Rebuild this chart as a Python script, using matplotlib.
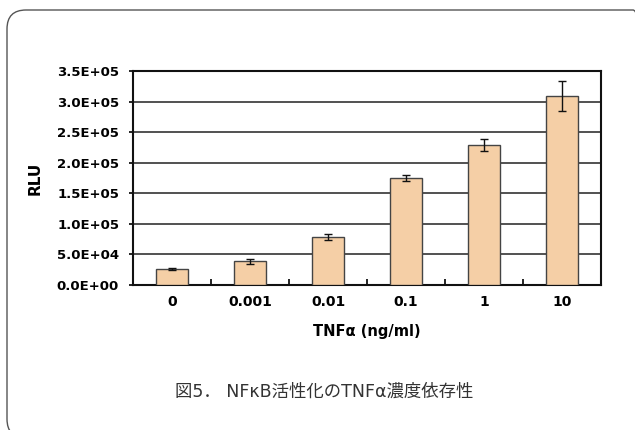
import numpy as np
import matplotlib
matplotlib.use("Agg")
import matplotlib.pyplot as plt
from matplotlib.patches import FancyBboxPatch
from matplotlib.ticker import FuncFormatter, MultipleLocator, FixedLocator

# data
doses = ["0", "0.001", "0.01", "0.1", "1", "10"]
rlu = [26500, 39000, 78500, 175000, 229000, 309000]
rlu_err = [1500, 4000, 5500, 5000, 9500, 25000]

plt.rcParams["font.family"] = ["DejaVu Sans"]

W, H = 635, 430
fig = plt.figure(figsize=(W / 100, H / 100), dpi=100)

# rounded frame (in inches so the corners stay round); runs off the right/bottom edge
frame = FancyBboxPatch((0.07, -0.08), 6.45, 4.28,
                       boxstyle="round,pad=0,rounding_size=0.19",
                       transform=fig.dpi_scale_trans, fill=False,
                       ec="#555555", lw=1.0, clip_on=False)
fig.patches.append(frame)

ax = fig.add_axes([133 / W, 1 - 285 / H, 468 / W, 214 / H])
x = np.arange(len(doses))
ax.bar(x, rlu, 0.4, yerr=rlu_err, color="#f5cfa6", edgecolor="#444444",
       lw=1.0, capsize=3.2, error_kw=dict(elinewidth=1.0, ecolor="#111111",
                                          capthick=1.0), zorder=3)

ax.set_xlim(-0.5, len(doses) - 0.5)
ax.set_ylim(0, 350000)
ax.yaxis.set_major_locator(MultipleLocator(50000))
ax.yaxis.set_major_formatter(FuncFormatter(lambda v, p: f"{v:.1E}"))
ax.grid(axis="y", color="#222222", lw=1.1, zorder=0)
ax.set_axisbelow(True)

ax.set_xticks(x)
ax.set_xticklabels(doses)
ax.xaxis.set_minor_locator(FixedLocator(np.arange(0.5, len(doses) - 1, 1.0)))
ax.tick_params(axis="x", which="major", length=0, pad=7, labelsize=10)
ax.tick_params(axis="x", which="minor", direction="in", length=4, width=1.2)
ax.tick_params(axis="y", direction="out", length=3, width=1.2, pad=7, labelsize=9.5)
for lab in ax.get_xticklabels() + ax.get_yticklabels():
    lab.set_fontweight("bold")
for s in ax.spines.values():
    s.set_linewidth(1.5)
    s.set_color("#111111")

ax.set_xlabel("TNFα (ng/ml)", fontsize=10.5, fontweight="bold", labelpad=11)
ax.set_ylabel("RLU", fontsize=11, fontweight="bold", labelpad=10)

fig.text(324 / W, 1 - 392 / H, "図5． NFκB活性化のTNFα濃度依存性",
         ha="center", va="center", fontsize=12.5, color="#333333",
         family=["DejaVu Sans", "Noto Sans CJK JP"])

fig.savefig("out.png", dpi=100)
